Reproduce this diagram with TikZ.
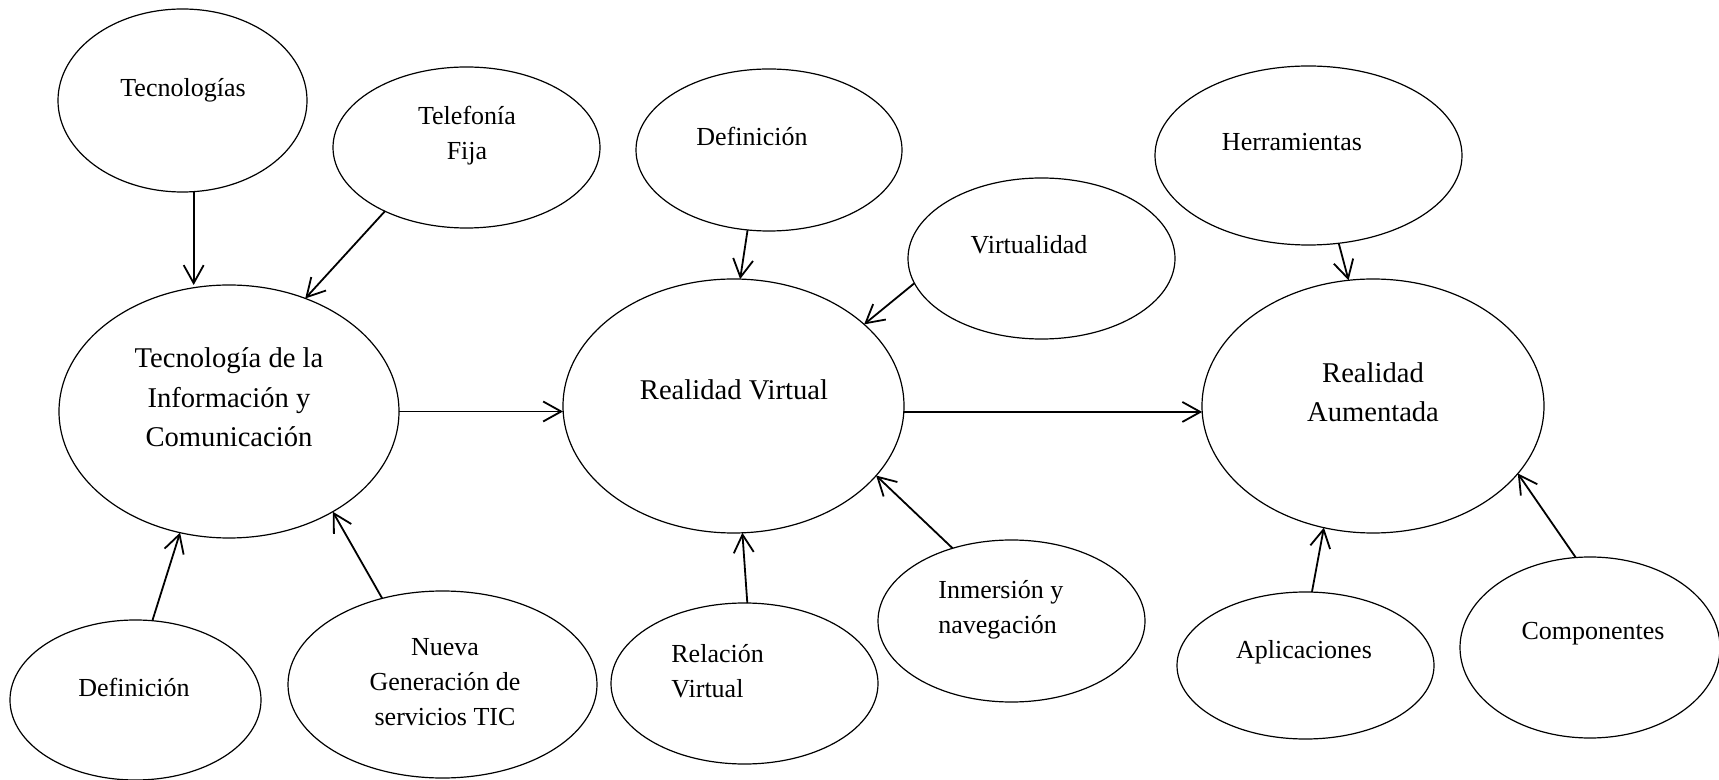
\documentclass[tikz,border=0pt]{standalone}
\usepackage{fontspec}
\setmainfont{Liberation Serif}
\usetikzlibrary{shapes.geometric,arrows.meta}
\begin{document}
\begin{tikzpicture}[x=0.5pt,y=-0.5pt,
  bub/.style={draw, ellipse, inner sep=0pt, outer sep=0pt, line width=0.6pt},
  lbl/.style={font=\fontsize{13}{17.5}\selectfont, align=center, inner sep=0pt},
  biglbl/.style={font=\fontsize{14.3}{19.75}\selectfont, align=center, inner sep=0pt},
  arr/.style={-{Straight Barb[length=9pt,width=10pt]}, line width=0.9pt}]
\fill[white] (0,0) rectangle (1719,780);
\useasboundingbox (0,0) rectangle (1719,780);
% ellipses
\node[bub, minimum width=124.5pt, minimum height=91.5pt] (tec) at (182.5,100.5) {};
\node[bub, minimum width=133.5pt, minimum height=80.5pt] (tel) at (466.5,147.5) {};
\node[bub, minimum width=170pt, minimum height=126.5pt] (tic) at (229,411.5) {};
\node[bub, minimum width=125.5pt, minimum height=80pt] (defl) at (135.5,700) {};
\node[bub, minimum width=154.5pt, minimum height=93.5pt] (nueva) at (442.5,684.5) {};
\node[bub, minimum width=133pt, minimum height=81pt] (deft) at (769,150) {};
\node[bub, minimum width=133.5pt, minimum height=80.5pt] (virt) at (1041.5,258.5) {};
\node[bub, minimum width=170.5pt, minimum height=127pt] (rv) at (733.5,406) {};
\node[bub, minimum width=133.5pt, minimum height=80.5pt] (rel) at (744.5,683.5) {};
\node[bub, minimum width=133.5pt, minimum height=81pt] (inm) at (1011.5,621) {};
\node[bub, minimum width=153.5pt, minimum height=89.5pt] (herr) at (1308.5,155.5) {};
\node[bub, minimum width=171pt, minimum height=127pt] (ra) at (1373,406) {};
\node[bub, minimum width=128.5pt, minimum height=73.5pt] (apl) at (1305.5,665.5) {};
\node[bub, minimum width=130pt, minimum height=90.5pt] (comp) at (1590,647.5) {};
% texts
\node[lbl] (tTec) at (183,90) {Tecnologías};
\node[lbl] (tTel) at (467,135.5) {Telefonía\\Fija};
\node[biglbl] (tTic) at (229,397.5) {Tecnología de la\\Información y\\Comunicación};
\node[lbl] (tDefl) at (134,687) {Definición};
\node[lbl] (tNueva) at (445,682) {Nueva\\Generación de\\servicios TIC};
\node[lbl] (tDeft) at (752,136) {Definición};
\node[lbl] (tVirt) at (1029,245) {Virtualidad};
\node[biglbl] (tRv) at (734,390) {Realidad Virtual};
\node[lbl, align=left, anchor=west] (tRel) at (671,671) {Relación\\Virtual};
\node[lbl, align=left, anchor=west] (tInm) at (938,609.5) {Inmersión y\\navegación};
\node[lbl] (tHerr) at (1292,142) {Herramientas};
\node[biglbl] (tRa) at (1373,392) {Realidad\\Aumentada};
\node[lbl] (tApl) at (1304,652) {Aplicaciones};
\node[lbl] (tComp) at (1593,634) {Componentes};
% connectors
\draw[arr] (tec.-83.7) -- (tec.-83.7 |- tic.north);
\draw[arr] (tel.218) -- (tic.56.3);
\draw[arr] (tic.-0.7) -- (tic.-0.7 -| rv.west);
\draw[arr] (defl.78.3) -- (tic.-112.8);
\draw[arr] (nueva.125) -- (tic.-44.6);
\draw[arr] (deft.-105.9) -- (rv.87.1);
\draw[arr] (virt.191.6) -- (rv.32.8);
\draw[arr] (rv.-2) -- (ra.182);
\draw[arr] (rel.88.9) -- (rv.-86.6);
\draw[arr] (inm.129.6) -- (rv.-26.9);
\draw[arr] (herr.-71.4) -- (ra.101);
\draw[arr] (apl.85.8) -- (ra.-112.1);
\draw[arr] (comp.99.6) -- (ra.-25.5);
\end{tikzpicture}
\end{document}
